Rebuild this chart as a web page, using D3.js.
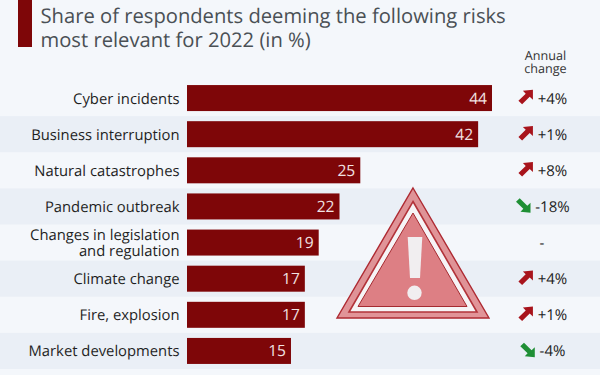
<!DOCTYPE html>
<html>
<head>
<meta charset="utf-8">
<script src="https://cdn.jsdelivr.net/npm/d3@7"></script>
<style>
  html, body { margin: 0; padding: 0; background: #f4f7fb; }
  svg { display: block; font-family: "Open Sans", sans-serif; text-rendering: geometricPrecision; }
</style>
</head>
<body>
<div id="chart"></div>
<script>
const categories = [
  ['Cyber incidents'],
  ['Business interruption'],
  ['Natural catastrophes'],
  ['Pandemic outbreak'],
  ['Changes in legislation', 'and regulation'],
  ['Climate change'],
  ['Fire, explosion'],
  ['Market developments']
];
const values = [44, 42, 25, 22, 19, 17, 17, 15];
const changes = ['+4%', '+1%', '+8%', '-18%', '-', '+4%', '+1%', '-4%'];
const titleLines = ['Share of respondents deeming the following risks', 'most relevant for 2022 (in %)'];
const headerLines = ['Annual', 'change'];

const width = 600, height = 375;
const red = '#7e0608';

const svg = d3.select('#chart').append('svg')
  .attr('width', width).attr('height', height)
  .attr('role', 'img')
  .attr('aria-label', titleLines.join(' '));

svg.append('rect').attr('width', width).attr('height', height).attr('fill', '#f4f7fb');

const x = d3.scaleLinear().domain([0, 44]).range([187, 492]);
const y = d3.scaleBand().domain(d3.range(values.length)).range([80, 369]);

// stripes behind every other row
svg.append('g').selectAll('rect')
  .data(d3.range(values.length).filter(i => i % 2 === 1))
  .join('rect')
  .attr('x', 0).attr('width', width)
  .attr('y', i => y(i)).attr('height', y.bandwidth())
  .attr('fill', '#eaeff6');

// multi line text goes in one text element
function addLines(parent, lines, xPos, yPos, lineH) {
  const t = parent.append('text').attr('x', xPos).attr('y', yPos);
  t.selectAll('tspan').data(lines).join('tspan')
    .attr('x', xPos).attr('dy', (d, i) => i ? lineH : 0)
    .text(d => d);
  return t;
}

// Title
svg.append('rect').attr('x', 18).attr('y', 0).attr('width', 14).attr('height', 47).attr('fill', red);
addLines(svg, titleLines, 40.5, 23, 24)
  .attr('font-size', '20.2px').attr('fill', '#4a5055');

// Column header
addLines(svg, headerLines, 545.5, 59.5, 13)
  .attr('text-anchor', 'middle').attr('font-size', '12.6px').attr('fill', '#333');

// Bars
svg.append('g').selectAll('rect').data(values).join('rect')
  .attr('x', x(0)).attr('width', d => x(d) - x(0))
  .attr('y', (d, i) => y(i) + (y.bandwidth() - 26) / 2).attr('height', 26)
  .attr('fill', red);

svg.append('g').selectAll('text').data(values).join('text')
  .attr('x', d => x(d) - 5).attr('y', (d, i) => y(i) + y.bandwidth() / 2 + 5.5)
  .attr('text-anchor', 'end').attr('font-size', '15.6px').attr('fill', '#f1e2e2')
  .text(d => d);

// Category labels
categories.forEach((lines, i) => {
  const cy = y(i) + y.bandwidth() / 2;
  addLines(svg, lines, 179.5, cy + 5.5 - (lines.length - 1) * 8, 16)
    .attr('text-anchor', 'end').attr('font-size', '14.8px').attr('fill', '#1f1f1f');
});

// Annual change column, arrow sits left of the centred text
const arrowUp = 'M-7.3,3.7 L0,-3.4 L-2.8,-6.2 L7.2,-7.2 L7.2,2.8 L4,-0.2 L-3.6,7.2 Z';
const arrowDown = 'M-7.3,-3.7 L0,3.4 L-2.8,6.2 L7.2,7.2 L7.2,-2.8 L4,0.2 L-3.6,-7.2 Z';
changes.forEach((c, i) => {
  const cy = y(i) + y.bandwidth() / 2;
  const label = svg.append('text').attr('x', c === '-' ? 542 : 552.5).attr('y', cy + 5.5)
    .attr('text-anchor', 'middle').attr('font-size', '15px').attr('fill', '#222').text(c);
  if (c === '-') return;
  const neg = c[0] === '-';
  const left = 552.5 - label.node().getComputedTextLength() / 2;
  svg.append('path').attr('d', neg ? arrowDown : arrowUp)
    .attr('transform', `translate(${left - 12},${cy - 1})`)
    .attr('fill', neg ? '#1f8f35' : '#a8141c');
});

// Warning sign
const sign = svg.append('g');
const tri = (ax, ay, lx, rx, by) => `M${ax},${ay} L${rx},${by} L${lx},${by} Z`;
sign.append('path').attr('d', tri(413, 188, 337, 489, 318))
  .attr('fill', '#dd8286').attr('fill-opacity', 0.85).attr('stroke', '#ae2a32').attr('stroke-width', 1.4);
sign.append('path').attr('d', tri(413, 201.5, 349, 477, 312))
  .attr('fill', '#f6f4f6').attr('stroke', '#b2333a').attr('stroke-width', 1.6);
sign.append('path').attr('d', tri(413, 213, 358, 467, 306.5))
  .attr('fill', '#da7479').attr('fill-opacity', 0.92).attr('stroke', '#a52a30').attr('stroke-width', 1);
sign.append('path').attr('d', 'M407.7,237 L422.3,237 L420,278 L410,278 Z').attr('fill', '#f1eef0');
sign.append('circle').attr('cx', 414.5).attr('cy', 292.8).attr('r', 7.2).attr('fill', '#f1eef0');
</script>
</body>
</html>
